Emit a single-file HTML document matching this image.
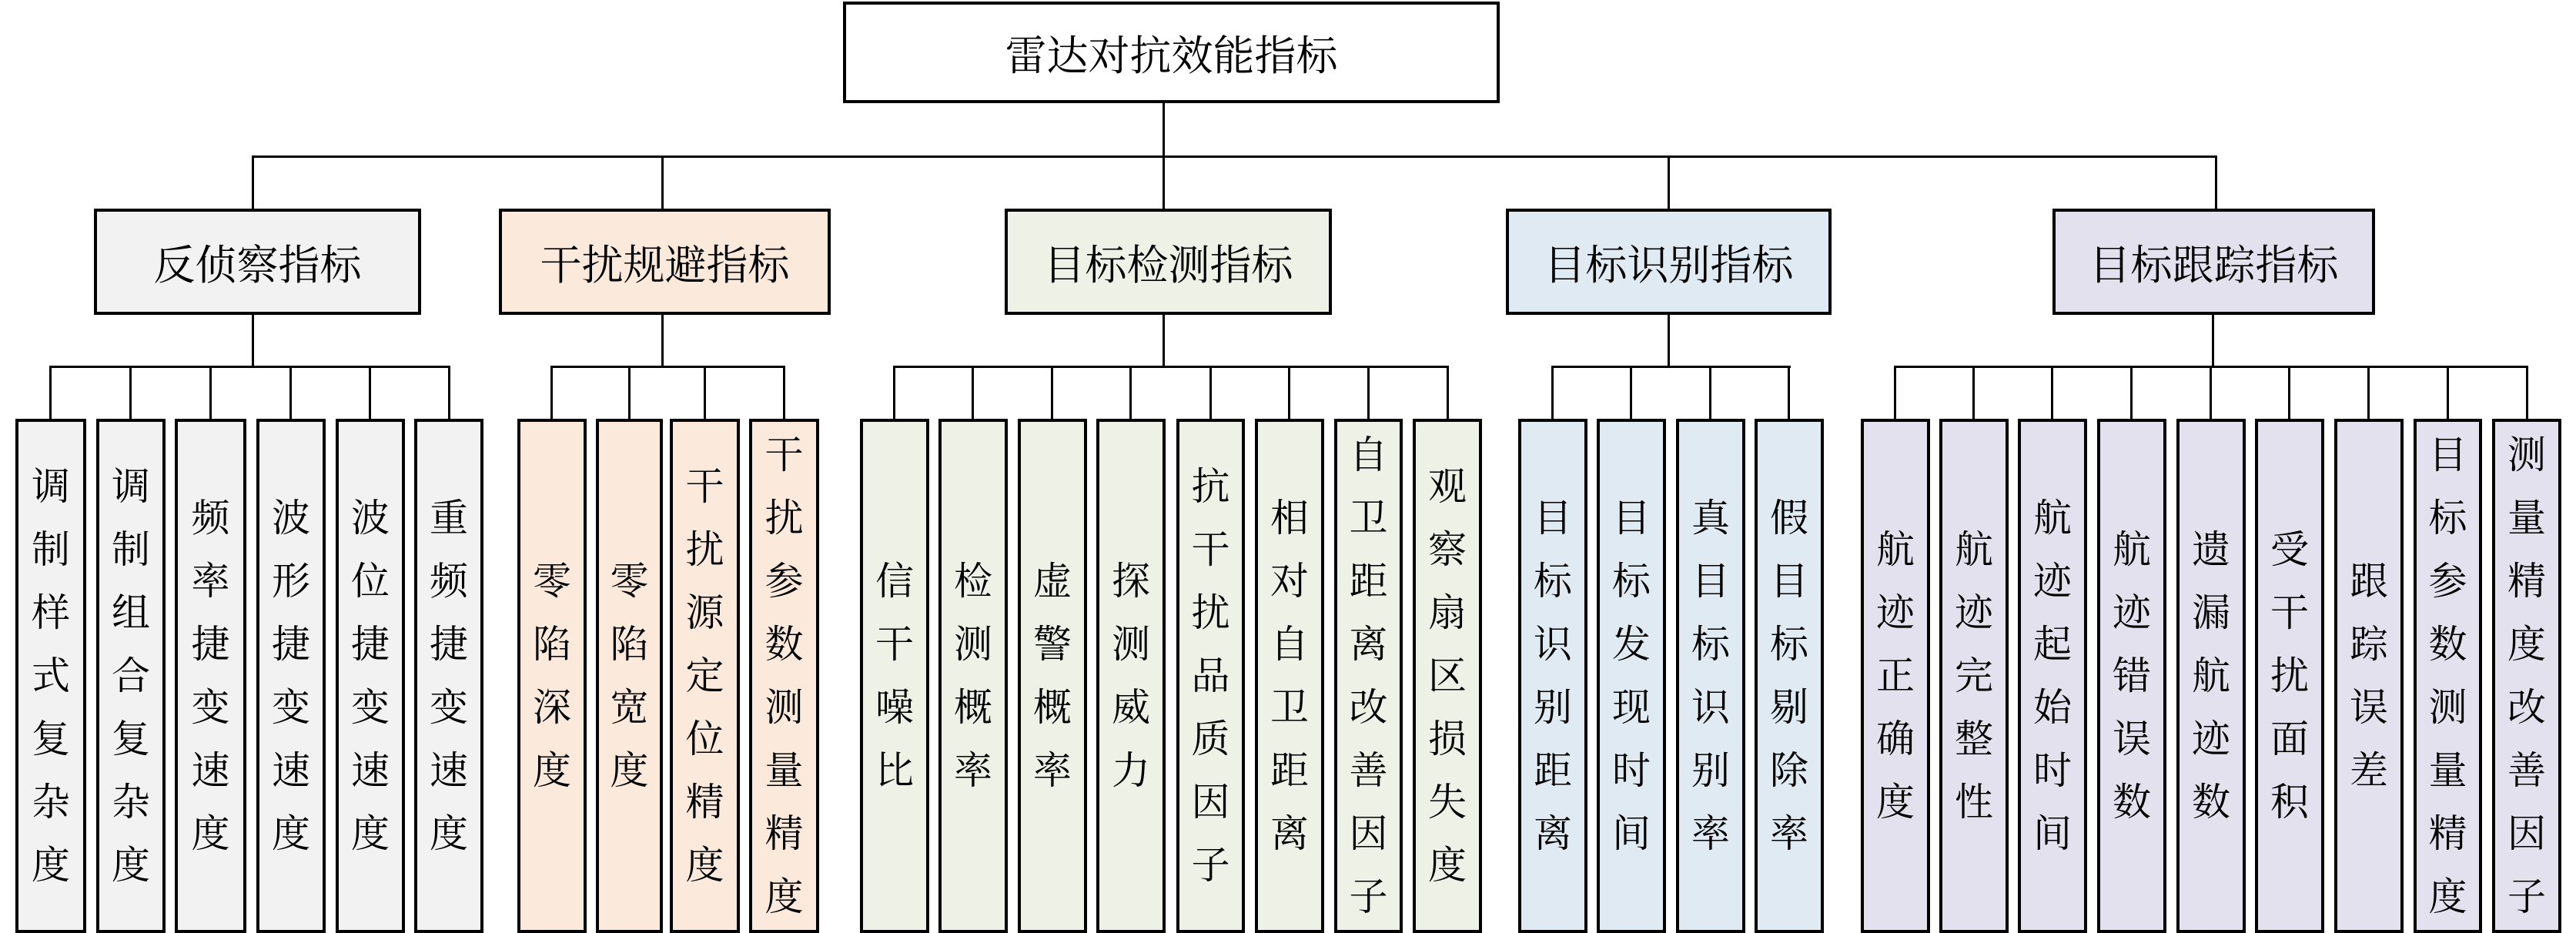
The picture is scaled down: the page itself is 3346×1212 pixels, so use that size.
<!DOCTYPE html>
<html><head><meta charset="utf-8"><style>
html,body{margin:0;padding:0;background:#fff}
body{width:3346px;height:1212px;position:relative;overflow:hidden;font-family:"Liberation Serif","Noto Serif CJK SC",serif;color:#000}
.b{position:absolute;box-sizing:border-box;border:4px solid #000;display:flex;align-items:center;justify-content:center}
.c{top:271px;height:138px;font-size:54px}
.f{top:544px;height:668px;font-size:50px}
.f span{display:block;width:1em;line-height:82px;text-align:center;word-break:break-all}
.h{position:absolute;background:#000;height:3px}
.v{position:absolute;background:#000;width:3px}
.g{background:#f2f2f2}.p{background:#fbe9dc}.gr{background:#eef1e6}.bl{background:#e0eaf3}.pu{background:#e4e1ee}
</style></head><body>
<div class="b" style="left:1095px;top:2px;width:853px;height:132px;font-size:54px;background:#fff">雷达对抗效能指标</div>
<div class="v" style="left:1510px;top:134px;height:70px"></div>
<div class="h" style="left:327px;top:202px;width:2553px"></div>
<div class="v" style="left:327px;top:202px;height:70px"></div>
<div class="v" style="left:859px;top:202px;height:70px"></div>
<div class="v" style="left:1510px;top:202px;height:70px"></div>
<div class="v" style="left:2166px;top:202px;height:70px"></div>
<div class="v" style="left:2877px;top:202px;height:70px"></div>
<div class="b c g" style="left:122px;width:425px">反侦察指标</div>
<div class="b c p" style="left:648px;width:431px">干扰规避指标</div>
<div class="b c gr" style="left:1305px;width:425px">目标检测指标</div>
<div class="b c bl" style="left:1956px;width:423px">目标识别指标</div>
<div class="b c pu" style="left:2666px;width:419px">目标跟踪指标</div>
<div class="v" style="left:327px;top:408px;height:69px"></div>
<div class="v" style="left:859px;top:408px;height:69px"></div>
<div class="v" style="left:1510px;top:408px;height:69px"></div>
<div class="v" style="left:2166px;top:408px;height:69px"></div>
<div class="v" style="left:2873px;top:408px;height:69px"></div>
<div class="h" style="left:64px;top:475px;width:521px"></div>
<div class="h" style="left:715px;top:475px;width:305px"></div>
<div class="h" style="left:1160px;top:475px;width:722px"></div>
<div class="h" style="left:2015px;top:475px;width:311px"></div>
<div class="h" style="left:2460px;top:475px;width:824px"></div>
<div class="v" style="left:64px;top:475px;height:70px"></div>
<div class="v" style="left:168px;top:475px;height:70px"></div>
<div class="v" style="left:272px;top:475px;height:70px"></div>
<div class="v" style="left:376px;top:475px;height:70px"></div>
<div class="v" style="left:479px;top:475px;height:70px"></div>
<div class="v" style="left:582px;top:475px;height:70px"></div>
<div class="v" style="left:715px;top:475px;height:70px"></div>
<div class="v" style="left:816px;top:475px;height:70px"></div>
<div class="v" style="left:914px;top:475px;height:70px"></div>
<div class="v" style="left:1017px;top:475px;height:70px"></div>
<div class="v" style="left:1160px;top:475px;height:70px"></div>
<div class="v" style="left:1262px;top:475px;height:70px"></div>
<div class="v" style="left:1365px;top:475px;height:70px"></div>
<div class="v" style="left:1467px;top:475px;height:70px"></div>
<div class="v" style="left:1571px;top:475px;height:70px"></div>
<div class="v" style="left:1673px;top:475px;height:70px"></div>
<div class="v" style="left:1776px;top:475px;height:70px"></div>
<div class="v" style="left:1879px;top:475px;height:70px"></div>
<div class="v" style="left:2015px;top:475px;height:70px"></div>
<div class="v" style="left:2117px;top:475px;height:70px"></div>
<div class="v" style="left:2220px;top:475px;height:70px"></div>
<div class="v" style="left:2322px;top:475px;height:70px"></div>
<div class="v" style="left:2460px;top:475px;height:70px"></div>
<div class="v" style="left:2562px;top:475px;height:70px"></div>
<div class="v" style="left:2664px;top:475px;height:70px"></div>
<div class="v" style="left:2767px;top:475px;height:70px"></div>
<div class="v" style="left:2870px;top:475px;height:70px"></div>
<div class="v" style="left:2972px;top:475px;height:70px"></div>
<div class="v" style="left:3075px;top:475px;height:70px"></div>
<div class="v" style="left:3178px;top:475px;height:70px"></div>
<div class="v" style="left:3281px;top:475px;height:70px"></div>
<div class="b f g" style="left:20px;width:92px"><span>调制样式复杂度</span></div>
<div class="b f g" style="left:125px;width:90px"><span>调制组合复杂度</span></div>
<div class="b f g" style="left:227px;width:93px"><span>频率捷变速度</span></div>
<div class="b f g" style="left:333px;width:90px"><span>波形捷变速度</span></div>
<div class="b f g" style="left:436px;width:90px"><span>波位捷变速度</span></div>
<div class="b f g" style="left:538px;width:90px"><span>重频捷变速度</span></div>
<div class="b f p" style="left:672px;width:90px"><span>零陷深度</span></div>
<div class="b f p" style="left:774px;width:87px"><span>零陷宽度</span></div>
<div class="b f p" style="left:870px;width:91px"><span>干扰源定位精度</span></div>
<div class="b f p" style="left:973px;width:91px"><span>干扰参数测量精度</span></div>
<div class="b f gr" style="left:1117px;width:90px"><span>信干噪比</span></div>
<div class="b f gr" style="left:1219px;width:90px"><span>检测概率</span></div>
<div class="b f gr" style="left:1322px;width:90px"><span>虚警概率</span></div>
<div class="b f gr" style="left:1424px;width:90px"><span>探测威力</span></div>
<div class="b f gr" style="left:1528px;width:89px"><span>抗干扰品质因子</span></div>
<div class="b f gr" style="left:1630px;width:90px"><span>相对自卫距离</span></div>
<div class="b f gr" style="left:1733px;width:89px"><span>自卫距离改善因子</span></div>
<div class="b f gr" style="left:1835px;width:90px"><span>观察扇区损失度</span></div>
<div class="b f bl" style="left:1972px;width:90px"><span>目标识别距离</span></div>
<div class="b f bl" style="left:2074px;width:90px"><span>目标发现时间</span></div>
<div class="b f bl" style="left:2177px;width:90px"><span>真目标识别率</span></div>
<div class="b f bl" style="left:2279px;width:90px"><span>假目标剔除率</span></div>
<div class="b f pu" style="left:2417px;width:90px"><span>航迹正确度</span></div>
<div class="b f pu" style="left:2519px;width:90px"><span>航迹完整性</span></div>
<div class="b f pu" style="left:2621px;width:90px"><span>航迹起始时间</span></div>
<div class="b f pu" style="left:2724px;width:90px"><span>航迹错误数</span></div>
<div class="b f pu" style="left:2827px;width:90px"><span>遗漏航迹数</span></div>
<div class="b f pu" style="left:2929px;width:90px"><span>受干扰面积</span></div>
<div class="b f pu" style="left:3032px;width:90px"><span>跟踪误差</span></div>
<div class="b f pu" style="left:3135px;width:89px"><span>目标参数测量精度</span></div>
<div class="b f pu" style="left:3237px;width:90px"><span>测量精度改善因子</span></div>
</body></html>
